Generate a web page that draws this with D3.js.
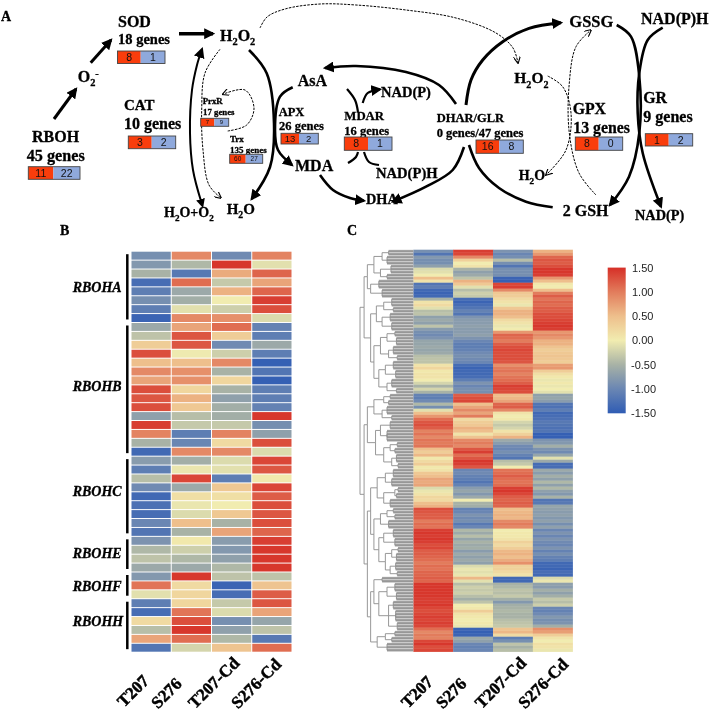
<!DOCTYPE html>
<html>
<head>
<meta charset="utf-8">
<script src="https://cdn.jsdelivr.net/npm/d3@7"></script>
<style>
html, body { margin: 0; padding: 0; background: #fff; }
svg { display: block; filter: blur(0.35px); }
</style>
</head>
<body>
<div id="chart"></div>
<script>
const samples = ['T207', 'S276', 'T207-Cd', 'S276-Cd'];
const legendTicks = [-1.5, -1, -0.5, 0, 0.5, 1, 1.5];

// panel A gene counts
const boxNames = ['RBOH', 'SOD', 'CAT', 'PrxR', 'Trx', 'APX', 'MDAR', 'DHAR', 'GPX', 'GR'];
const boxUp = [11, 8, 3, 7, 60, 13, 8, 16, 8, 1];
const boxDown = [22, 1, 2, 9, 27, 2, 1, 8, 0, 2];

// panel B, RBOH family rows
const rbohGroups = ['RBOHA', 'RBOHB', 'RBOHC', 'RBOHE', 'RBOHF', 'RBOHH'];
const rbohCounts = [8, 15, 9, 4, 3, 6];
const rbohValues = [
  [-0.9, 0.9, -0.95, 0.95], [-0.8, -0.45, 1.45, -0.1], [-0.5, -1.15, 0.65, 1.15], [-1.3, 1.1, -0.3, 0.7],
  [-1.1, -0.6, 0.6, 1.15], [-0.9, -0.55, 0.0, 1.4], [-1.1, -0.1, -0.25, 1.3], [-1.4, 0.9, 0.85, -0.15],
  [-0.6, 0.7, 1.1, -1.05], [-0.35, 1.25, 0.35, -1.1], [0.35, 1.25, -0.95, -0.6], [1.3, -0.02, -0.25, -1.1],
  [0.5, 0.5, 0.9, -1.45], [0.9, 0.85, -0.5, -1.2], [0.7, 0.85, 0.25, -1.45], [1.3, 0.25, -0.5, -1.1],
  [1.25, 0.6, -0.7, -1.1], [1.3, 0.4, -0.55, -1.05], [-0.7, -0.4, -0.55, 1.45], [1.4, -0.3, -0.3, -0.9],
  [0.95, -1.1, 0.95, -0.7], [-0.5, -1.0, 0.2, 1.3], [-1.35, 0.9, 0.9, -0.15],
  [-0.75, -0.55, -0.15, 1.35], [-1.1, -0.05, -0.1, 1.25], [-0.4, 1.35, -1.1, 0.05], [-0.95, -0.6, 0.4, 1.35],
  [-1.35, 0.15, 0.15, 1.2], [-1.25, -0.05, 0.0, 1.3], [-1.3, -0.15, 0.4, 1.25], [-1.0, 0.5, -0.5, 1.3],
  [-1.2, -0.5, 0.7, 1.15],
  [-0.85, 0.05, -0.75, 1.4], [-0.45, -0.25, -0.8, 1.45], [-0.35, -0.45, -0.7, 1.45], [-0.6, -0.6, -0.45, 1.45],
  [-0.8, 1.45, -0.35, -0.35], [1.05, 0.2, -1.4, 0.45], [-0.1, 0.25, -1.3, 1.2],
  [-1.1, 0.25, -0.3, 1.25], [-1.3, 1.05, -0.15, 0.7], [0.2, 1.3, -0.9, -0.65], [-0.4, 1.45, -0.7, -0.35],
  [0.7, 1.1, -0.45, -1.15], [-1.2, -0.2, 0.45, 1.1]
];

// panel C, one list per sample, read top to bottom
const cT207 = [
  -0.9,-1.2,-0.8,-0.9,-0.9,-0.7,-0.15,-0.1,0.0,0.5,0.1,-1.2,-1.1,-1.35,-1.4,-1.35,-0.5,0.1,0.2,-0.1,-0.4,-0.35,-0.7,-0.6,-0.7,-0.35,-0.75,-0.9,-0.95,-0.85,-0.65,-0.65,-0.6,-0.65,
  -0.6,-0.4,-0.35,-0.35,0.1,0.25,0.05,0.1,0.1,0.0,-0.2,-0.5,-0.2,-0.5,-1.05,-1.1,-0.95,-0.45,-0.9,-0.1,0.5,0.8,1.1,1.25,1.3,1.2,0.95,1.05,0.9,1.05,1.0,1.05,0.5,0.35,
  0.55,0.05,0.2,0.35,0.05,0.1,0.4,0.5,0.7,0.65,0.7,-0.15,-0.05,0.1,0.25,0.2,0.5,0.6,1.3,1.25,1.2,1.2,1.0,1.1,1.05,1.4,1.45,1.4,1.45,1.4,1.3,1.35,1.2,1.2,
  1.15,1.1,1.0,1.1,1.05,1.15,1.15,1.2,1.15,1.45,1.45,1.45,1.45,1.45,1.4,1.4,1.45,1.35,1.3,1.35,1.4,1.35,1.4,1.35,1.1,0.9,1.0,0.95,1.35,1.45,1.3,1.35
];
const cS276 = [
  1.4,1.35,0.9,0.3,0.0,0.1,-0.5,-0.7,-0.6,-0.35,0.6,0.4,-0.1,-0.4,-0.25,-0.3,-1.3,-1.4,-1.3,-1.2,-1.05,-1.2,-0.85,-0.75,-0.75,-0.7,-0.75,-0.75,-0.7,-0.85,-1.0,-1.1,-1.1,-1.05,
  -0.95,-0.9,-0.95,-1.0,-1.3,-1.4,-1.35,-1.35,-1.3,-1.1,-0.85,-1.0,-0.9,-0.9,1.2,1.3,1.35,0.5,0.7,0.9,0.7,1.0,0.2,0.35,0.4,0.6,0.5,0.1,0.45,0.9,1.0,0.9,1.25,1.4,
  1.1,1.25,1.45,1.4,1.25,-1.0,-0.95,-1.05,-1.1,-1.2,-1.05,-0.75,-0.65,-0.8,-0.6,0.0,-0.5,-0.55,-1.05,-1.0,-0.85,-0.95,-0.9,-1.15,-1.0,-0.45,-0.6,-0.4,-0.65,-0.5,-0.6,-0.55,-0.75,-0.6,
  -0.7,-0.6,-0.7,-0.15,-0.05,-0.1,-0.05,0.55,-0.1,-0.4,-0.25,-0.3,-0.25,-0.4,-0.55,-0.35,0.0,0.05,0.35,0.1,0.05,0.0,0.05,-0.05,-1.4,-1.45,-1.4,-0.6,-0.7,-1.0,-1.05,-1.0
];
const cT207Cd = [
  -0.85,-1.0,-0.9,-0.4,-0.9,-1.2,-0.9,-0.9,-0.9,-1.4,-1.45,1.35,1.4,0.9,0.4,0.35,0.2,0.1,-0.05,0.4,0.6,0.6,0.5,0.2,0.1,-0.05,0.0,0.8,1.15,1.1,1.0,1.2,1.3,1.35,
  1.3,1.3,1.3,1.25,0.85,1.0,1.05,0.95,1.05,1.1,1.2,1.4,1.35,1.3,0.5,0.55,0.7,1.15,1.2,0.9,0.1,0.0,0.05,-0.2,-0.3,-0.2,0.1,0.3,0.6,-0.6,-0.75,-0.95,-1.0,-0.9,
  -1.05,-1.2,-0.4,-0.3,0.0,1.05,1.1,1.2,1.1,1.05,1.1,1.4,1.45,1.35,1.2,1.15,1.2,1.15,0.5,0.55,0.6,0.55,0.9,1.0,0.9,0.0,0.05,0.05,0.1,0.3,0.2,0.35,0.55,0.6,
  0.5,0.65,0.85,0.3,0.3,0.2,0.1,-1.35,-1.35,-0.5,-0.45,-0.35,-0.4,-0.3,-0.55,-0.8,-0.55,-0.5,-0.45,-0.5,-0.5,-0.4,-0.35,-0.3,0.45,0.55,0.2,-1.1,-0.9,-0.35,-0.5,-0.4
];
const cS276Cd = [
  0.6,0.8,1.15,1.25,1.2,1.3,1.45,1.45,1.4,0.8,0.5,0.05,0.0,0.5,1.0,1.2,1.05,1.15,1.1,1.2,1.2,1.3,1.3,1.35,1.4,1.45,1.4,0.8,0.9,0.8,0.6,0.6,0.45,0.35,
  0.4,0.45,0.4,0.35,0.75,0.8,0.35,0.15,0.05,-0.05,0.05,-0.05,0.0,-0.1,-0.7,-0.65,-0.75,-1.2,-1.25,-1.1,-1.35,-1.3,-1.25,-1.15,-1.2,-1.25,-1.2,-1.45,-1.45,-0.85,-0.8,-0.55,-0.85,-0.95,
  -0.65,-0.1,-0.6,-1.3,-1.3,-0.6,-0.75,-0.55,-0.7,-0.45,-0.7,-0.45,-0.7,-0.8,-0.5,-1.2,-1.15,-0.65,-0.7,-0.75,-0.7,-0.8,-0.7,-0.9,-0.7,-1.0,-0.85,-1.0,-0.85,-0.95,-1.0,-0.85,-1.05,-0.9,
  -1.05,-1.1,-1.35,-1.35,-1.4,-1.3,-1.35,-0.15,-0.05,-0.7,-0.75,-0.55,-0.7,-0.55,-0.3,-0.4,-0.25,-1.0,-1.05,-0.95,-0.8,-0.9,-0.85,-0.55,0.85,0.75,0.35,0.1,0.0,0.15,0.1,-0.05
];

// dendrogram of panel C: [merge distance, ...children], a plain number = that many leaves
const dendroBlocks = {
  a: [36, [26, [18, 2], [20, 3]], [28, [15, 3], [20, 2]]],
  b: [40, [30, 3], [26, 3]],
  c: [33, [24, [14, 3], [12, 2]], [26, [16, 3], [14, 3]]],
  d1: [28, [20, [10, 2], [8, 3]], [18, [12, 3], [7, 2]]],
  d2: [30, [22, [12, 3], [9, 3]], [20, [14, 3], [8, 2]]],
  g: [36, [24, [16, 2], [18, 2]], [26, [20, 3], [14, 2]]],
  h: [34, [28, [16, 3], [20, 4]], [24, [16, [7, 2], [10, 2]], [14, [8, 3], [6, 2]]]],
  j: [32, [22, [12, 3], [14, 3]], [24, [10, [6, 2], [8, 2]], [16, 3]]],
  k: [28, [20, [12, 2], [10, 2]], [18, 3]],
  l: [30, [24, [12, 3], [10, 3]], [22, [14, [6, 2], [8, 3]], [16, [9, 3], [7, 2]]]],
  m: [36, [26, 2], [30, [20, [10, 3], [8, 3]], [18, [12, 3], [9, 4], [7, 3]]]],
  n: [32, [22, [10, 2], [14, 2]], [20, 3]]
};
const dendroTree = [53,
  [48,
    [44, dendroBlocks.a, dendroBlocks.b],
    [40, dendroBlocks.c, [36, dendroBlocks.d1, dendroBlocks.d2]]],
  [48,
    [44, dendroBlocks.g, dendroBlocks.h],
    [44,
      [40, dendroBlocks.j, [36, dendroBlocks.k, dendroBlocks.l]],
      [40, dendroBlocks.m, dendroBlocks.n]]]
];

const width = 712, height = 714;
const serif = "'Liberation Serif', 'Times New Roman', serif";
const sans = "'Liberation Sans', Arial, sans-serif";

const color = d3.scaleLinear()
  .domain(legendTicks)
  .range(['#2f5cb4', '#6a86b3', '#a8b2a6', '#f1ecb0', '#eebf8c', '#e27c5c', '#d62f27'])
  .clamp(true);

const svg = d3.select('#chart').append('svg')
  .attr('width', width)
  .attr('height', height)
  .attr('viewBox', [0, 0, width, height]);

const defs = svg.append('defs');

// arrow heads
defs.append('marker').attr('id', 'head').attr('viewBox', '0 0 10 10')
  .attr('refX', 8).attr('refY', 5)
  .attr('markerUnits', 'userSpaceOnUse').attr('markerWidth', 11).attr('markerHeight', 11)
  .attr('orient', 'auto')
  .append('path').attr('d', 'M0,0L10,5L0,10z').attr('fill', '#000');
defs.append('marker').attr('id', 'headThin').attr('viewBox', '0 0 10 10')
  .attr('refX', 9).attr('refY', 5)
  .attr('markerUnits', 'userSpaceOnUse').attr('markerWidth', 7).attr('markerHeight', 7)
  .attr('orient', 'auto')
  .append('path').attr('d', 'M0,0L10,5L0,10').attr('fill', 'none').attr('stroke', '#000').attr('stroke-width', 1.6);
defs.append('marker').attr('id', 'headStart').attr('viewBox', '0 0 10 10')
  .attr('refX', 2).attr('refY', 5)
  .attr('markerUnits', 'userSpaceOnUse').attr('markerWidth', 9).attr('markerHeight', 9)
  .attr('orient', 'auto-start-reverse')
  .append('path').attr('d', 'M0,0L10,5L0,10z').attr('fill', '#000');

// ---------- panel A ----------
const panelA = svg.append('g');

// pathway curves
const curves = [
  { w: 3, pts: [[54, 119], [76, 89]] },
  { w: 3, pts: [[90.7, 62.7], [111, 40]] },
  { w: 3.5, pts: [[179, 33.7], [213, 33.7]] },
  { w: 1, thin: true, pts: [[260, 28], [267, 17], [285, 9], [320, 4], [356, 5], [406, 10], [456, 18], [496, 33], [513, 48], [518, 63]] },
  { w: 2, both: true, pts: [[201, 201], [193, 170], [190, 133], [192, 90], [197, 65], [202, 49]] },
  { w: 1, thin: true, pts: [[220, 49.3], [205, 73], [201.7, 110], [203, 150], [209, 185], [221, 198]] },
  { w: 2.6, pts: [[249, 50], [266.7, 73.3], [274, 123], [270, 167], [251.7, 199]] },
  { w: 1, thin: true, pts: [[227.7, 131], [246.7, 125], [254, 108], [245, 90], [222.7, 94.3]] },
  { w: 2.6, pts: [[292.7, 87.3], [280, 96.7], [275, 130], [278, 150], [292, 165]] },
  { w: 2.6, pts: [[320, 175], [333, 190], [350, 198], [364, 200.7]] },
  { w: 2.6, pts: [[456, 104], [439, 85], [406, 72], [356, 66], [325, 68]] },
  { w: 2.6, pts: [[464, 147], [452.7, 170], [426, 186.7], [392.7, 201.7]] },
  { w: 3, pts: [[466, 105], [471, 80], [482.7, 60], [502.7, 41.7], [529, 28.3], [561, 22.7]] },
  { w: 2.6, none: true, pts: [[469, 145], [479, 168], [499, 188], [526, 201.7], [552.7, 207.3]] },
  { w: 1, thin: true, pts: [[596, 195], [579, 173], [569.3, 133], [569.3, 83], [576, 46.7], [591, 30]] },
  { w: 1, thin: true, pts: [[547.7, 76], [562.7, 86.7], [571, 113], [566, 150], [546, 175]] },
  { w: 2.6, pts: [[616.7, 25], [631, 36.7], [639.3, 76.7], [639.3, 133], [629, 176.7], [610, 205]] },
  { w: 2.6, pts: [[662.7, 27.7], [647.7, 40], [639.3, 73], [637.7, 113], [642.7, 153], [661, 206.7]] },
  { w: 2.2, pts: [[362.7, 103], [367.7, 93], [380, 89.3]] },
  { w: 2.2, none: true, pts: [[347, 89], [355, 100], [358, 112]] },
  { w: 2.2, none: true, pts: [[364, 152], [369, 162], [379, 165]] },
  { w: 2.2, none: true, pts: [[348, 163], [356, 157], [358, 152]] }
];

const curveLine = d3.line().curve(d3.curveCatmullRom.alpha(0.5));

panelA.append('g').selectAll('path')
  .data(curves)
  .join('path')
  .attr('d', d => curveLine(d.pts))
  .attr('fill', 'none')
  .attr('stroke', '#000')
  .attr('stroke-width', d => d.w)
  .attr('stroke-dasharray', d => d.thin ? '2.5 1.2' : null)
  .attr('marker-end', d => d.none ? null : d.thin ? 'url(#headThin)' : 'url(#head)')
  .attr('marker-start', d => d.both ? 'url(#headStart)' : null);

// labels, _x = subscript, ^x = superscript
const labels = [
  ['A', 1, 21, 14], ['B', 60, 235, 14], ['C', 347, 235, 14],
  ['SOD', 118, 27, 16], ['18 genes', 118, 44.3, 14.5],
  ['RBOH', 32, 141.7, 16], ['45 genes', 26.7, 160.7, 16.2],
  ['CAT', 124, 110, 15], ['10 genes', 124, 129.3, 16],
  ['O_2^-', 77.7, 81.7, 16],
  ['H_2O_2', 220, 41, 16],
  ['PrxR', 202.7, 104.3, 8.8], ['17 genes', 203, 115, 8.8],
  ['Trx', 230, 141.7, 9], ['135 genes', 230, 153, 9],
  ['APX', 278.7, 116, 12.5], ['26 genes', 279, 130, 12.5],
  ['AsA', 297.7, 86, 16], ['MDA', 295, 170.7, 16],
  ['H_2O', 226.7, 214, 15], ['H_2O+O_2', 164, 217.3, 14],
  ['MDAR', 344.3, 120, 12.8], ['16 genes', 344.3, 135, 12.5],
  ['NAD(P)', 381, 96.7, 14.5], ['NAD(P)H', 376, 178.3, 14.6], ['DHA', 366, 204.3, 14.3],
  ['DHAR/GLR', 436.7, 122.3, 12.5], ['0 genes/47 genes', 436.7, 136.7, 12.5],
  ['GSSG', 569.3, 27.3, 16.5], ['NAD(P)H', 641, 24, 16],
  ['H_2O_2', 514.3, 83.3, 15.5], ['GPX', 572.7, 114, 15.8], ['13 genes', 573.3, 133.3, 15.8],
  ['GR', 643.3, 102.7, 15.8], ['9 genes', 643.3, 122, 16],
  ['H_2O', 518.7, 180, 14], ['2 GSH', 562.7, 216, 16], ['NAD(P)', 635, 220, 14.3]
];

function chem(sel, str) {
  const parts = str.split(/([_^].)/).filter(s => s !== '');
  let shift = 0;
  parts.forEach(p => {
    const t = sel.append('tspan');
    const kind = p[0] === '_' ? 0.28 : p[0] === '^' ? -0.3 : 0;
    if (p.length === 2 && kind !== 0) {
      t.text(p[1]).attr('font-size', '0.65em').attr('dy', (kind - shift) * 1 / 0.65 + 'em');
      shift = kind;
    } else {
      t.text(p);
      if (shift !== 0) t.attr('dy', -shift + 'em');
      shift = 0;
    }
  });
}

panelA.append('g')
  .attr('font-family', serif)
  .attr('font-weight', 'bold')
  .attr('fill', '#000')
  .attr('stroke', '#000')
  .attr('stroke-width', 0.3)
  .selectAll('text')
  .data(labels)
  .join('text')
  .attr('x', d => d[1])
  .attr('y', d => d[2])
  .attr('font-size', d => d[3])
  .each(function(d) { chem(d3.select(this), d[0]); });

// gene count boxes: x0, split, x1, y0, y1, font size
const boxLayout = [
  [28.3, 53.3, 80, 166.7, 179.3, 10.5],
  [117.5, 140.7, 165, 51, 63.5, 10.5],
  [128.3, 151.7, 175.7, 136, 148.7, 10.5],
  [200.7, 214.3, 228.7, 118.3, 126.3, 6],
  [229.7, 245.7, 262.7, 154.3, 163.3, 6.5],
  [281, 299, 318.3, 133.3, 144, 9.5],
  [344.3, 368, 392, 137, 150.3, 10.5],
  [476, 499.3, 523.3, 140, 153.3, 10.5],
  [575.3, 598.7, 622.7, 137, 150.3, 10.5],
  [645.3, 668.7, 692.7, 133.7, 146, 10.5]
];

const boxes = panelA.append('g').selectAll('g')
  .data(boxNames)
  .join('g');

boxes.append('rect')
  .attr('x', (d, i) => boxLayout[i][0]).attr('y', (d, i) => boxLayout[i][3])
  .attr('width', (d, i) => boxLayout[i][1] - boxLayout[i][0])
  .attr('height', (d, i) => boxLayout[i][4] - boxLayout[i][3])
  .attr('fill', '#f93d0c');
boxes.append('rect')
  .attr('x', (d, i) => boxLayout[i][1]).attr('y', (d, i) => boxLayout[i][3])
  .attr('width', (d, i) => boxLayout[i][2] - boxLayout[i][1])
  .attr('height', (d, i) => boxLayout[i][4] - boxLayout[i][3])
  .attr('fill', '#8fa9dc');
boxes.append('rect')
  .attr('x', (d, i) => boxLayout[i][0]).attr('y', (d, i) => boxLayout[i][3])
  .attr('width', (d, i) => boxLayout[i][2] - boxLayout[i][0])
  .attr('height', (d, i) => boxLayout[i][4] - boxLayout[i][3])
  .attr('fill', 'none').attr('stroke', '#444').attr('stroke-width', 0.9);
boxes.append('text')
  .attr('x', (d, i) => (boxLayout[i][0] + boxLayout[i][1]) / 2)
  .attr('y', (d, i) => (boxLayout[i][3] + boxLayout[i][4]) / 2 + boxLayout[i][5] * 0.36)
  .attr('text-anchor', 'middle')
  .attr('font-family', sans).attr('font-size', (d, i) => boxLayout[i][5]).attr('fill', '#111')
  .text((d, i) => boxUp[i]);
boxes.append('text')
  .attr('x', (d, i) => (boxLayout[i][1] + boxLayout[i][2]) / 2)
  .attr('y', (d, i) => (boxLayout[i][3] + boxLayout[i][4]) / 2 + boxLayout[i][5] * 0.36)
  .attr('text-anchor', 'middle')
  .attr('font-family', sans).attr('font-size', (d, i) => boxLayout[i][5]).attr('fill', '#111')
  .text((d, i) => boxDown[i]);

// ---------- panel B ----------
const panelB = svg.append('g');

const xB = d3.scaleBand().domain(samples).range([131.5, 291.5]).paddingInner(0.025);
const yB = d3.scaleBand().domain(d3.range(rbohValues.length)).range([251.7, 651.7]).paddingInner(0.11);

panelB.append('g').selectAll('g')
  .data(rbohValues)
  .join('g')
  .attr('transform', (d, i) => `translate(0,${yB(i)})`)
  .selectAll('rect')
  .data(d => d)
  .join('rect')
  .attr('x', (d, i) => xB(samples[i]))
  .attr('width', xB.bandwidth())
  .attr('height', yB.bandwidth())
  .attr('fill', d => color(d));

const rowStep = yB.step();
const groupLabelY = [291.7, 390.7, 496, 558.3, 590.7, 626];
let rowStart = 0;
rbohGroups.forEach((name, i) => {
  const y0 = yB(rowStart) + 2.5;
  const y1 = yB(rowStart) + rbohCounts[i] * rowStep - 3.5;
  panelB.append('line')
    .attr('x1', 127.3).attr('x2', 127.3)
    .attr('y1', y0).attr('y2', y1)
    .attr('stroke', '#000').attr('stroke-width', 2.5);
  panelB.append('text')
    .attr('x', 72.7).attr('y', groupLabelY[i])
    .attr('font-family', serif).attr('font-weight', 'bold').attr('font-style', 'italic')
    .attr('font-size', 14)
    .attr('stroke', '#000').attr('stroke-width', 0.3)
    .text(name);
  rowStart += rbohCounts[i];
});

const labelStartsB = [[124, 708], [158, 709.5], [195, 709.5], [238, 709.5]];
panelB.append('g').selectAll('text')
  .data(samples)
  .join('text')
  .attr('transform', (d, i) => `translate(${labelStartsB[i][0]},${labelStartsB[i][1]}) rotate(-45)`)
  .attr('font-family', serif).attr('font-weight', 'bold').attr('font-size', 17)
  .attr('stroke', '#000').attr('stroke-width', 0.5)
  .text(d => d);

// ---------- panel C ----------
const panelC = svg.append('g');

const cColumns = [cT207, cS276, cT207Cd, cS276Cd];
const xC = d3.scaleBand().domain(samples).range([413.3, 572.7]);
const yC = d3.scaleBand().domain(d3.range(cT207.length)).range([249.7, 651.7]);

panelC.append('g').style('filter', 'blur(0.5px)').selectAll('g')
  .data(cColumns)
  .join('g')
  .attr('transform', (d, i) => `translate(${xC(samples[i])},0)`)
  .selectAll('rect')
  .data(d => d)
  .join('rect')
  .attr('y', (d, i) => yC(i))
  .attr('width', xC.bandwidth() + 0.2)
  .attr('height', yC.bandwidth() + 0.2)
  .attr('fill', d => color(d));

// dendrogram
const kids = d => Array.isArray(d)
  ? d.slice(1).flatMap(c => typeof c === 'number' ? d3.range(c).map(() => 0) : [c])
  : null;
const root = d3.hierarchy(dendroTree, kids);
d3.cluster().size([yC.range()[1] - yC.range()[0], 1]).separation(() => 1)(root);

const distX = d3.scaleLinear().domain([0, 6, 20, 53]).range([413.3, 398, 387, 360]);
const nodeX = n => distX(Array.isArray(n.data) ? n.data[0] : 0);
const nodeY = n => yC.range()[0] + n.x;

const dendro = panelC.append('g').attr('fill', 'none');
dendro.selectAll('path.leaf')
  .data(root.leaves())
  .join('path')
  .attr('class', 'leaf')
  .attr('d', d => `M${nodeX(d.parent)},${nodeY(d)}H${distX(0)}`)
  .attr('stroke', '#a9a9a9')
  .attr('stroke-width', 2.7);
dendro.selectAll('path.branch')
  .data(root.links())
  .join('path')
  .attr('class', 'branch')
  .attr('d', d => {
    const p = d.source, c = d.target;
    return `M${nodeX(p)},${nodeY(p)}V${nodeY(c)}H${nodeX(c)}`;
  })
  .attr('stroke', '#8c8c8c')
  .attr('stroke-width', 0.9);

const labelStartsC = [[408, 709], [442.7, 709.5], [481.7, 709.5], [525, 709.5]];
panelC.append('g').selectAll('text')
  .data(samples)
  .join('text')
  .attr('transform', (d, i) => `translate(${labelStartsC[i][0]},${labelStartsC[i][1]}) rotate(-45)`)
  .attr('font-family', serif).attr('font-weight', 'bold').attr('font-size', 17)
  .attr('stroke', '#000').attr('stroke-width', 0.5)
  .text(d => d);

// legend
const legendY = d3.scaleLinear().domain([-1.5, 1.5]).range([413.3, 267.6]);
const grad = defs.append('linearGradient').attr('id', 'legendGrad')
  .attr('x1', 0).attr('x2', 0).attr('y1', 1).attr('y2', 0);
grad.selectAll('stop')
  .data(legendTicks)
  .join('stop')
  .attr('offset', d => (d + 1.5) / 3)
  .attr('stop-color', d => color(d));

const legend = svg.append('g');
legend.append('rect')
  .attr('x', 607.7).attr('y', legendY(1.5))
  .attr('width', 18).attr('height', legendY(-1.5) - legendY(1.5))
  .attr('fill', 'url(#legendGrad)');
legend.append('g')
  .attr('transform', 'translate(628.5,0)')
  .call(d3.axisRight(legendY).tickValues(legendTicks).tickSize(0).tickFormat(d => d.toFixed(2)))
  .call(g => g.select('.domain').remove())
  .call(g => g.selectAll('text')
    .attr('font-family', sans).attr('font-size', 11).attr('fill', '#222')
    .attr('x', d => d < 0 ? 2.5 : 3.5));
</script>
</body>
</html>
